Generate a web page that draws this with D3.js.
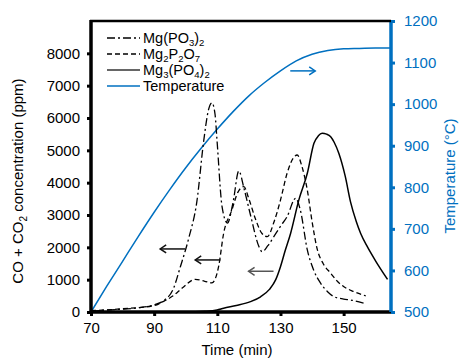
<!DOCTYPE html>
<html><head><meta charset="utf-8">
<script src="https://cdn.jsdelivr.net/npm/d3@7"></script>
<style>
body{margin:0;background:#fff;}
text{font-family:"Liberation Sans",Arial,sans-serif;}
</style></head>
<body><svg id="c" width="463" height="360"></svg>
<script>
// ---- data ----
const tempTime  = [70,75,80,85,90,95,100,105,110,115,120,125,130,135,140,145,150,155,160,165];
const tempValue = [500,562,622,682,740,795,847,895,940,982,1020,1052,1080,1104,1120,1129,1133,1134,1135,1135];

const mpoTime  = [70,80,85,90,93,96,98.3,101,103.5,105.7,107.2,108.3,109.3,109.9,111.5,113.2,115,116.8,118.5,120.5,123.2,124.2,126,127.9,130,132.1,134.8,136.3,138.5,140.5,142.7,145,146.9,150,152.2,156.4];
const mpoValue = [30,90,130,220,350,700,1400,2300,3400,5300,6250,6470,6100,5320,3260,2750,3400,4360,3800,3000,2020,1865,2050,2330,2650,2950,3516,3150,1920,1300,890,620,475,400,370,270];

const pyroTime  = [70,80,90,93,96,99,103,106,108.3,110.4,112,114.6,116.5,118.4,120,122,124,125.8,128,130,132.1,134,135.3,136.8,138.5,140,141.7,143.5,145.9,148,150.1,153,157];
const pyroValue = [40,100,200,330,500,750,1010,950,900,1400,2430,3150,3700,3875,3500,2900,2450,2330,2800,3460,4290,4750,4856,4500,3770,2800,1920,1500,1200,950,780,640,500];

const orthoTime  = [70,100,106,109.9,112,116,120.5,123.7,126.5,128.5,130,131.5,133.2,135.8,138.5,140.6,142,143.2,144.6,145.9,147,148.5,150.5,152.2,154,155.4,157.5,160,163.9];
const orthoValue = [0,0,20,60,115,200,320,470,700,1000,1400,1900,2430,3460,4290,5220,5450,5527,5500,5420,5250,4900,4200,3400,2800,2430,2020,1600,1010];

const xTicks = [70,90,110,130,150];
const yTicks = [0,1000,2000,3000,4000,5000,6000,7000,8000];
const y2Ticks = [500,600,700,800,900,1000,1100,1200];

// arrows (annotations): [t0, t1, value]
const arrowsLeft = [[91.9,99.8,1950],[103,111,1610],[119.9,127.8,1260]];
const arrowRight = [133.1,141,1080];

// ---- layout ----
const svg = d3.select("#c");
const L=91, R=391, T=21, B=312;
const blue = "#0070C0";
const x = d3.scaleLinear().domain([70,165]).range([L,R]);
const y = d3.scaleLinear().domain([0,9000]).range([B,T]);
const y2 = d3.scaleLinear().domain([500,1200]).range([B,T]);

const line = (xs, ys, ys_scale) => d3.line().curve(d3.curveMonotoneX)
  .x((d,i)=>x(xs[i])).y((d,i)=>ys_scale(ys[i]))(xs);

// temperature
svg.append("path").attr("d", line(tempTime,tempValue,y2)).attr("fill","none").attr("stroke",blue).attr("stroke-width",1.5);
// series
svg.append("path").attr("d", line(mpoTime,mpoValue,y)).attr("fill","none").attr("stroke","#000").attr("stroke-width",1.3).attr("stroke-dasharray","8,3,2,3");
svg.append("path").attr("d", line(pyroTime,pyroValue,y)).attr("fill","none").attr("stroke","#000").attr("stroke-width",1.3).attr("stroke-dasharray","5,3");
svg.append("path").attr("d", line(orthoTime,orthoValue,y)).attr("fill","none").attr("stroke","#000").attr("stroke-width",1.5);

// arrows
function arrow(x0,x1,yy,color,dir){
  const g = svg.append("g").attr("stroke",color).attr("stroke-width",1.5).attr("fill","none");
  g.append("line").attr("x1",x0).attr("x2",x1).attr("y1",yy).attr("y2",yy);
  const tip = dir<0?x0:x1, s = dir<0?1:-1;
  g.append("path").attr("d",`M${tip+s*6},${yy-4}L${tip},${yy}L${tip+s*6},${yy+4}`);
}
arrowsLeft.forEach((a,i)=>arrow(x(a[0]),x(a[1]),y(a[2]), i==2?"#555":"#111",-1));
arrow(x(arrowRight[0]),x(arrowRight[1]),y2(arrowRight[2]),blue,1);

// axes
const fs = "15px";
const fmt = d3.format("d");
const ax = svg.append("g").attr("transform",`translate(0,${B})`)
  .call(d3.axisBottom(x).tickValues(xTicks).tickFormat(fmt).tickSize(4).tickPadding(6));
const ay = svg.append("g").attr("transform",`translate(${L},0)`)
  .call(d3.axisLeft(y).tickValues(yTicks).tickFormat(fmt).tickSize(4).tickPadding(7));
const ay2 = svg.append("g").attr("transform",`translate(${R},0)`)
  .call(d3.axisRight(y2).tickValues(y2Ticks).tickFormat(fmt).tickSize(4).tickPadding(9));
[ax,ay].forEach(g=>{g.selectAll("path").attr("stroke","#000").attr("stroke-width",3.5);
  g.selectAll("line").attr("stroke","#000").attr("stroke-width",3);
  g.selectAll("text").attr("font-size",fs).attr("fill","#000").attr("font-family","Liberation Sans, Arial");});
ay2.selectAll("path").attr("stroke",blue).attr("stroke-width",3.5);
ay2.selectAll("line").attr("stroke",blue).attr("stroke-width",3);
ay2.selectAll("text").attr("font-size",fs).attr("fill",blue).attr("font-family","Liberation Sans, Arial");
ax.select("path.domain").attr("d",`M${L-1},0H${R}`);
ay.select("path.domain").attr("d",`M0,${B}V${T-1}`);
ay2.select("path.domain").attr("d",`M0,${B}V${T-1}`);
// top border
svg.append("line").attr("x1",L-1).attr("x2",R).attr("y1",T).attr("y2",T).attr("stroke","#000").attr("stroke-width",2.5);

// titles
svg.append("text").attr("x",237).attr("y",355).attr("text-anchor","middle").attr("font-size",fs).text("Time (min)");
const yt = svg.append("text").attr("transform","translate(23,181) rotate(-90)").attr("text-anchor","middle").attr("font-size",fs);
yt.append("tspan").text("CO + CO");
yt.append("tspan").attr("font-size","10px").attr("dy",4).text("2");
yt.append("tspan").attr("dy",-4).text(" concentration (ppm)");
svg.append("text").attr("transform","translate(455,176) rotate(-90)").attr("text-anchor","middle").attr("font-size",fs).attr("fill",blue).text("Temperature (°C)");

// legend
const legend = [
  {parts:[["Mg(PO",0],["3",1],[")",0],["2",1]], dash:"8,3,2,3", color:"#000"},
  {parts:[["Mg",0],["2",1],["P",0],["2",1],["O",0],["7",1]], dash:"5,3", color:"#000"},
  {parts:[["Mg",0],["3",1],["(PO",0],["4",1],[")",0],["2",1]], dash:null, color:"#333"},
  {parts:[["Temperature",0]], dash:null, color:blue}
];
const ly=[38,54,70,86];
legend.forEach((l,i)=>{
  const ln = svg.append("line").attr("x1",107).attr("x2",140).attr("y1",ly[i]).attr("y2",ly[i])
    .attr("stroke",l.color).attr("stroke-width",1.5);
  if(l.dash) ln.attr("stroke-dasharray",l.dash);
  const t = svg.append("text").attr("x",143).attr("y",ly[i]+5).attr("font-size","14.5px");
  let sub=false;
  l.parts.forEach(p=>{
    const ts=t.append("tspan").text(p[0]);
    if(p[1]){ts.attr("font-size","9.5px"); if(!sub){ts.attr("dy",2.5);} sub=true;}
    else { if(sub){ts.attr("dy",-2.5);} sub=false; }
  });
});
</script></body></html>
